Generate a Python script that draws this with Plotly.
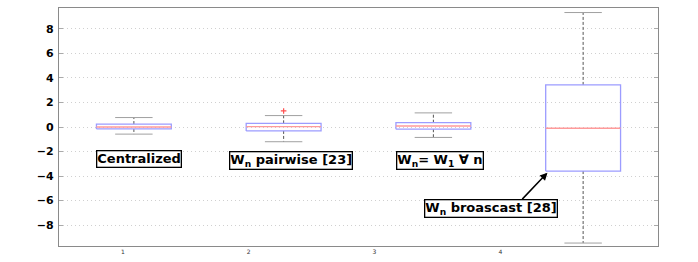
import plotly.graph_objects as go

# ---- data ----
positions = [1, 2, 3, 4]
q1 = [-0.16, -0.32, -0.18, -3.59]
median = [0.0, 0.03, 0.08, -0.10]
q3 = [0.24, 0.30, 0.35, 3.43]
lower_whisker = [-0.58, -1.20, -0.85, -9.46]
upper_whisker = [0.77, 0.93, 1.15, 9.33]
outlier_x = [2]
outlier_y = [1.31]
xtick_vals = [0.927, 1.767, 2.607, 3.447]
xtick_text = ["1", "2", "3", "4"]
ytick_vals = [-8, -6, -4, -2, 0, 2, 4, 6, 8]
labels = ["Centralized", "W<sub>n</sub> pairwise [23]", "W<sub>n</sub>= W<sub>1</sub> \u2200 n", "W<sub>n</sub> broascast [28]"]
label_x = [1.037, 2.052, 3.047, 3.387]
label_y = [-2.58, -2.70, -2.70, -6.63]

BOX_HALF = 0.25
CAP_HALF = 0.125

fig = go.Figure()

bx, by, mx, my, wx, wy, cx, cy = [], [], [], [], [], [], [], []
for p, a, m, b, lo, hi in zip(positions, q1, median, q3, lower_whisker, upper_whisker):
    bx += [p - BOX_HALF, p + BOX_HALF, p + BOX_HALF, p - BOX_HALF, p - BOX_HALF, None]
    by += [a, a, b, b, a, None]
    mx += [p - BOX_HALF, p + BOX_HALF, None]
    my += [m, m, None]
    wx += [p, p, None, p, p, None]
    wy += [b, hi, None, a, lo, None]
    cx += [p - CAP_HALF, p + CAP_HALF, None, p - CAP_HALF, p + CAP_HALF, None]
    cy += [hi, hi, None, lo, lo, None]

fig.add_trace(go.Scatter(x=wx, y=wy, mode="lines", line=dict(color="#555555", width=1, dash="3px,2px"), hoverinfo="skip"))
fig.add_trace(go.Scatter(x=cx, y=cy, mode="lines", line=dict(color="#a0a0a0", width=1), hoverinfo="skip"))
fig.add_trace(go.Scatter(x=bx, y=by, mode="lines", line=dict(color="#9c9cff", width=1.3), hoverinfo="skip"))
fig.add_trace(go.Scatter(x=mx, y=my, mode="lines", line=dict(color="#ff9a9a", width=1.3), hoverinfo="skip"))
fig.add_trace(go.Scatter(x=outlier_x, y=outlier_y, mode="markers",
                         marker=dict(symbol="cross-thin", size=4, line=dict(color="#ff5050", width=1.2)),
                         hoverinfo="skip"))

font_lbl = dict(family="DejaVu Sans", size=13, color="black")
for t, x, y in zip(labels, label_x, label_y):
    fig.add_annotation(x=x, y=y, xref="x", yref="y", text="<b>" + t + "</b>", showarrow=False,
                       font=font_lbl, bgcolor="white", bordercolor="black", borderwidth=1.3, borderpad=0)

# arrow from broadcast label to box 4
fig.add_annotation(x=3.762, y=-3.72, ax=3.584, ay=-6.0, xref="x", yref="y", axref="x", ayref="y",
                   text="", showarrow=True, arrowhead=2, arrowsize=1, arrowwidth=1.5, arrowcolor="black")

fig.update_layout(
    width=698, height=262,
    margin=dict(l=59, r=40, t=7, b=11),
    paper_bgcolor="white", plot_bgcolor="white",
    showlegend=False,
    xaxis=dict(range=[0.5, 4.5], tickvals=xtick_vals, ticktext=xtick_text,
               tickfont=dict(family="DejaVu Sans", size=6, color="#333"),
               showgrid=False, zeroline=False, showline=True, linecolor="#8a8a8a", linewidth=1.3,
               mirror=True, ticks="", ticklabelstandoff=0),
    yaxis=dict(range=[-9.7, 9.7], tickvals=ytick_vals,
               ticktext=["\u22128", "\u22126", "\u22124", "\u22122", "0", "2", "4", "6", "8"],
               tickfont=dict(family="DejaVu Sans", size=11, color="black", weight="bold"),
               showgrid=True, gridcolor="#d0d0d0", griddash="1px,3px", gridwidth=1,
               zeroline=False, showline=True, linecolor="#8a8a8a", linewidth=1.3, mirror="ticks",
               ticks="inside", ticklen=4, tickcolor="#aaaaaa", ticklabelstandoff=2),
)

fig.write_html("out.html", config={"displayModeBar": False},
               post_script="document.body.style.margin='0';document.body.style.overflow='hidden';")
